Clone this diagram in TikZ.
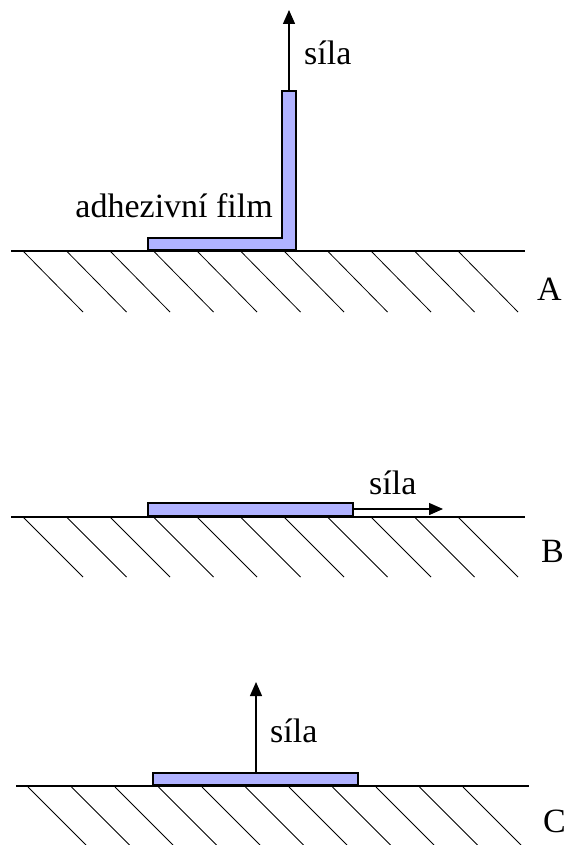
\documentclass[tikz,border=0pt]{standalone}
\usepackage{fontspec}
\setmainfont{Liberation Serif}
\usetikzlibrary{arrows.meta}
\definecolor{fc}{RGB}{176,178,255}
\tikzset{film/.style={draw,fill=fc,line width=1.3pt},
 ground/.style={line width=1.4pt},hatch/.style={line width=.8pt},
 arr/.style={-{Triangle[length=14pt,width=12pt]},line width=1.4pt},
 lbl/.style={inner sep=0pt,font=\fontsize{34}{40}\selectfont}}
\begin{document}
\begin{tikzpicture}[x=1pt,y=-1pt]
\useasboundingbox (0,0) rectangle (573,845);
% A
\draw[ground] (11,251) -- (525,251);
\foreach \i in {0,...,10} \draw[hatch] (23+43.5*\i,251) -- ++(60,61);
\draw[film] (148,238) -- (282,238) -- (282,91) -- (296,91) -- (296,251) -- (148,251) -- cycle;
\draw[line width=2.6pt] (148,250) -- (296,250);
\coordinate (ta) at (289,91);
\coordinate (ha) at (289,10);
\draw[arr] (ta) -- (ha);
\node[lbl,anchor=base west] (sa) at (304,65) {síla};
\node[lbl,anchor=base east] (af) at (273,217) {adhezivní film};
\node[lbl,anchor=base west] (la) at (537,300) {A};
% B
\draw[ground] (11,517) -- (525,517);
\foreach \i in {0,...,10} \draw[hatch] (23+43.5*\i,517) -- ++(60,60);
\draw[film] (148,503) rectangle (353,516);
\draw[line width=2.6pt] (148,516) -- (353,516);
\coordinate (tb) at (353,509);
\coordinate (hb) at (443,509);
\draw[arr] (tb) -- (hb);
\node[lbl,anchor=base west] (sb) at (369,494) {síla};
\node[lbl,anchor=base west] (lb) at (541,562) {B};
% C
\draw[ground] (16,786) -- (529,786);
\foreach \i in {0,...,10} \draw[hatch] (28+43.5*\i,787) -- ++(58,58);
\draw[film] (153,773) rectangle (358,786);
\draw[line width=2.6pt] (153,785) -- (358,785);
\coordinate (tc) at (256,773);
\coordinate (hc) at (256,682);
\draw[arr] (tc) -- (hc);
\node[lbl,anchor=base west] (sc) at (270,742) {síla};
\node[lbl,anchor=base west] (lc) at (543,832) {C};
\end{tikzpicture}
\end{document}
